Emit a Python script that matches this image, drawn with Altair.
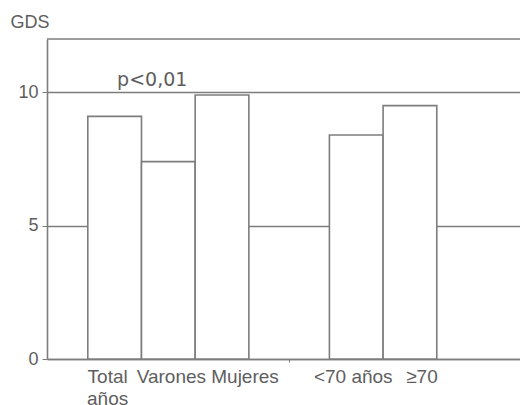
import altair as alt
import pandas as pd

# ---- data ----
categories = ["Total", "Varones", "Mujeres", "<70 años", "≥70"]
labels = [["Total", "años"], "Varones", "Mujeres", "<70 años", "≥70"]
groups = [1, 1, 1, 2, 2]
values = [9.1, 7.4, 9.9, 8.4, 9.5]
y_ticks = [0, 5, 10]
y_max = 12
annotation = ["p<0,01"]
y_title = "GDS"

# ---- layout helpers (category slots, with a gap between groups) ----
GAP = 1.5
starts = [i + GAP * (g - 1) for i, g in enumerate(groups)]
df = pd.DataFrame({
    "cat": categories,
    "label": labels,
    "value": values,
    "start": starts,
    "end": [s + 1 for s in starts],
    "mid": [s + 0.5 for s in starts],
})
gap_mid = (starts[2] + 1 + starts[3]) / 2
label_dx = {"Total": -7, "Varones": 3, "Mujeres": 23, "<70 años": -3, "≥70": 12}

LINE = "#7d7d7d"
TEXT = "#5e5e5e"
FONT = "Liberation Sans"

xscale = alt.Scale(domain=[-0.76, 8.05], nice=False, zero=False)
yscale = alt.Scale(domain=[0, y_max], nice=False)

base = alt.Chart(df)

bars = base.mark_bar(fill="white", stroke=LINE, strokeWidth=1.6).encode(
    x=alt.X("start:Q", scale=xscale,
            axis=alt.Axis(values=[gap_mid], labels=False, tickSize=3, grid=False,
                          title=None, domainColor=LINE, domainWidth=1.6,
                          tickColor=LINE, tickWidth=1)),
    x2="end:Q",
    y=alt.Y("value:Q", scale=yscale,
            axis=alt.Axis(values=y_ticks, grid=True, gridColor=LINE, gridWidth=1.6,
                          domainColor=LINE, domainWidth=1.6, tickColor=LINE,
                          tickSize=5, labelPadding=4, labelFont=FONT,
                          labelFontSize=18, labelColor=TEXT,
                          title=y_title, titleAngle=0, titleAlign="left",
                          titleBaseline="alphabetic", titleX=-37, titleY=-12,
                          titleFont=FONT, titleFontSize=18, titleFontWeight="normal",
                          titleColor=TEXT)),
    y2=alt.Y2(datum=0),
)

top_line = alt.Chart(pd.DataFrame({"y": [y_max]})).mark_rule(
    color=LINE, strokeWidth=1.6).encode(y=alt.Y("y:Q", scale=yscale))

text_style = dict(baseline="alphabetic", font=FONT, fontSize=19, color=TEXT,
                  lineHeight=22, align="center")

cat_layers = [
    base.transform_filter(alt.datum.cat == c).mark_text(dx=label_dx[c], **text_style).encode(
        x=alt.X("mid:Q", scale=xscale),
        y=alt.value(344),
        text="label",
    )
    for c in categories
]

p_text = alt.Chart(pd.DataFrame({"t": annotation})).mark_text(
    align="center", baseline="alphabetic", dy=-6, font="DejaVu Sans",
    fontSize=19, color=TEXT).encode(
    x=alt.datum(1.2),
    y=alt.datum(10),
    text="t:N",
)

chart = alt.layer(bars, top_line, *cat_layers, p_text).properties(
    width=473, height=320,
    autosize=alt.AutoSizeParams(type="none"),
    padding={"left": 47, "top": 39, "right": 0, "bottom": 46},
).configure_view(stroke=None)

chart.save("out.html", embed_options={"renderer": "svg", "actions": False})
